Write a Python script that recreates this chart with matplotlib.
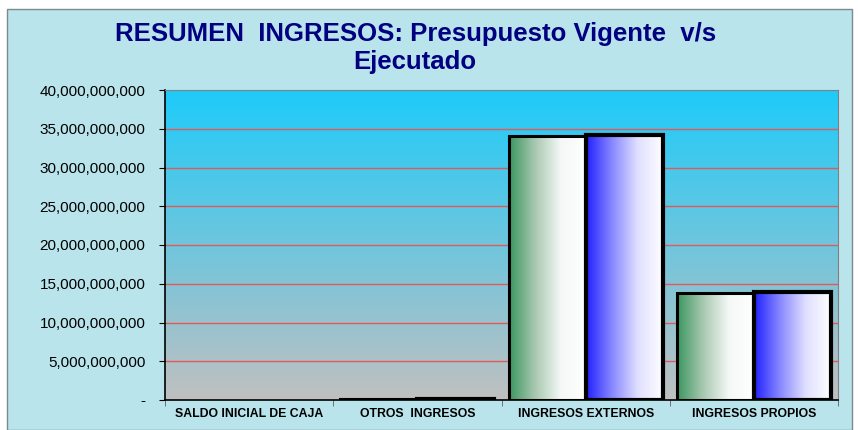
import numpy as np
import matplotlib.pyplot as plt
from matplotlib.colors import LinearSegmentedColormap
from matplotlib.patches import Rectangle
from matplotlib.ticker import FuncFormatter

plt.rcParams['font.family'] = ['Liberation Sans', 'DejaVu Sans']

categorias = ['SALDO INICIAL DE CAJA', 'OTROS  INGRESOS', 'INGRESOS EXTERNOS', 'INGRESOS PROPIOS']
presupuesto = [0, 80e6, 34.05e9, 13.8e9]
ejecutado = [0, 120e6, 34.15e9, 13.9e9]
titulo = 'RESUMEN  INGRESOS: Presupuesto Vigente  v/s\nEjecutado'

fig = plt.figure(figsize=(8.58, 4.30), dpi=100)
fig.patch.set_facecolor('white')
# marco del grafico
marco = Rectangle((7 / 858, 0), 845 / 858, 421 / 430, transform=fig.transFigure,
                  facecolor='#b9e4ec', edgecolor='#7a8a8e', lw=1, zorder=-10)
fig.add_artist(marco)

ax = fig.add_axes([165 / 858, 30 / 430, 673 / 858, 310 / 430])
ax.set_facecolor('none')

ymax = 40e9
# fondo degradado del area de trazado
fondo = LinearSegmentedColormap.from_list('fondo', ['#c0c0c0', '#1ecbfa'])
grad = np.linspace(0, 1, 256).reshape(-1, 1)
ax.imshow(grad, extent=[-0.5, 3.5, 0, ymax], origin='lower', aspect='auto', cmap=fondo, zorder=0)

for v in np.arange(5e9, 40e9, 5e9):
    ax.axhline(v, color='#e05a5a', lw=1, zorder=1)

verde = LinearSegmentedColormap.from_list('verde', ['#3a9660', '#a8c8b0', '#f4f8f6', '#ffffff'])
azul = LinearSegmentedColormap.from_list('azul', ['#2020ff', '#8888ff', '#e0e0ff', '#ffffff'])
fila = np.linspace(0, 1, 256).reshape(1, -1)
w = 0.458
x = np.arange(len(categorias))

for i in range(len(categorias)):
    for off, val, cm, lw in [(-w, presupuesto[i], verde, 2.2), (0, ejecutado[i], azul, 3.0)]:
        x0 = x[i] + off
        if val > 0:
            ax.imshow(fila, extent=[x0, x0 + w, 0, val], aspect='auto', cmap=cm, zorder=2)
            ax.add_patch(Rectangle((x0, 0), w, val, fill=False, edgecolor='black', lw=lw, zorder=3))

ax.set_xlim(-0.5, 3.5)
ax.set_ylim(0, ymax)
ax.set_yticks(np.arange(0, 40e9 + 1, 5e9))
ax.yaxis.set_major_formatter(FuncFormatter(lambda v, p: '-' if v == 0 else f'{v:,.0f}'))
ax.tick_params(axis='y', labelsize=11, length=4, color='black', pad=10)
ax.set_xticks(x)
ax.set_xticklabels(categorias, fontsize=8.8, fontweight='bold')
ax.set_xticks(np.arange(-0.5, 4, 1), minor=True)
ax.tick_params(axis='x', which='major', length=0, pad=6)
ax.tick_params(axis='x', which='minor', length=4, color='#606060')

ax.spines['left'].set_color('black')
ax.spines['bottom'].set_color('black')
ax.spines['left'].set_linewidth(1.2)
ax.spines['bottom'].set_linewidth(1.2)
ax.spines['top'].set_color('#808080')
ax.spines['right'].set_color('#808080')
for s in ax.spines.values():
    s.set_zorder(4)

fig.text(0.484, 0.888, titulo, ha='center', va='center', fontsize=18.5, fontweight='bold',
         color='#000080', linespacing=1.2)

fig.savefig('out.png', dpi=100)
